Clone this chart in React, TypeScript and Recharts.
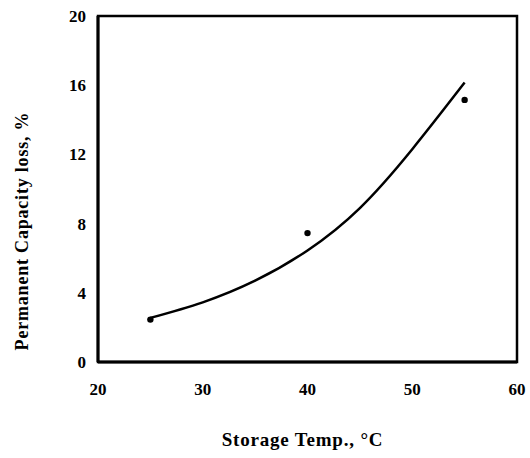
import {
  ComposedChart,
  Label,
  Line,
  ReferenceArea,
  Scatter,
  XAxis,
  YAxis,
} from "recharts";

// measured capacity loss at each storage temperature
const storageTemps = [25, 40, 55];
const capacityLoss = [2.45, 7.45, 15.15];

// fitted trend at 5 degree steps
const fitTemps = [25, 30, 35, 40, 45, 50, 55];
const fitLoss = [2.55, 3.45, 4.7, 6.45, 8.9, 12.3, 16.15];

const xTicks = [20, 30, 40, 50, 60];
const yTicks = [0, 4, 8, 12, 16, 20];

const measured = storageTemps.map((t, i) => ({ temp: t, loss: capacityLoss[i] }));
const fitted = fitTemps.map((t, i) => ({ temp: t, loss: fitLoss[i] }));

const FONT = "'Liberation Serif', 'Times New Roman', serif";
const tickStyle = { fontFamily: FONT, fontWeight: 700, fontSize: 17, fill: "#000" };

function YTitle({ viewBox }: any) {
  const cx = 22;
  const cy = viewBox.y + viewBox.height / 2 + 42;
  return (
    <text
      x={cx}
      y={cy}
      transform={`rotate(-90, ${cx}, ${cy})`}
      textAnchor="middle"
      dominantBaseline="central"
      fontFamily={FONT}
      fontWeight={700}
      fontSize={18}
      letterSpacing={0.8}
      fill="#000"
    >
      Permanent Capacity loss, %
    </text>
  );
}

function XTitle({ viewBox }: any) {
  const cx = viewBox.x + viewBox.width / 2 - 5;
  return (
    <text
      x={cx}
      y={446}
      textAnchor="middle"
      fontFamily={FONT}
      fontWeight={700}
      fontSize={19}
      letterSpacing={0.8}
      fill="#000"
    >
      Storage Temp., °C
    </text>
  );
}

export default function App() {
  return (
    <div style={{ position: "absolute", left: 0, top: 0, background: "#fff" }}>
      <ComposedChart
        width={530}
        height={458}
        margin={{ top: 16, right: 13, left: 0, bottom: 0 }}
      >
        <XAxis
          type="number"
          dataKey="temp"
          domain={[20, 60]}
          ticks={xTicks}
          allowDataOverflow
          height={96}
          tickLine={false}
          tickSize={0}
          tickMargin={21}
          axisLine={{ stroke: "#000", strokeWidth: 3 }}
          tick={tickStyle}
        >
          <Label content={<XTitle />} />
        </XAxis>
        <YAxis
          type="number"
          dataKey="loss"
          domain={[0, 20]}
          ticks={yTicks}
          width={98}
          tickLine={false}
          tickSize={0}
          tickMargin={12}
          axisLine={{ stroke: "#000", strokeWidth: 3 }}
          tick={tickStyle}
        >
          <Label content={<YTitle />} />
        </YAxis>
        <ReferenceArea
          x1={20}
          x2={60}
          y1={0}
          y2={20}
          fill="none"
          stroke="#000"
          strokeWidth={2.5}
          ifOverflow="visible"
        />
        <Line
          data={fitted}
          dataKey="loss"
          type="natural"
          stroke="#000"
          strokeWidth={2.5}
          dot={false}
          activeDot={false}
          isAnimationActive={false}
        />
        <Scatter
          data={measured}
          dataKey="loss"
          fill="#000"
          shape={(p: any) => <circle cx={p.cx} cy={p.cy} r={3.2} fill="#000" />}
          isAnimationActive={false}
        />
      </ComposedChart>
    </div>
  );
}
